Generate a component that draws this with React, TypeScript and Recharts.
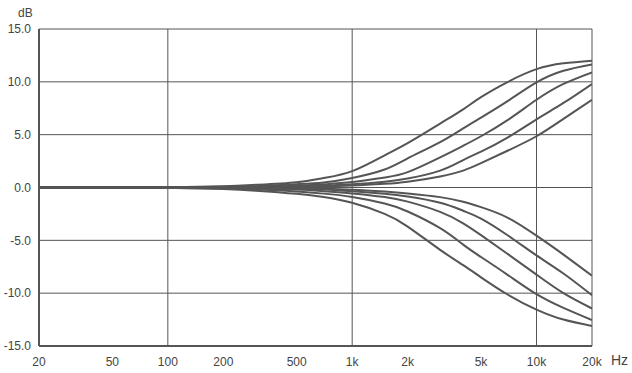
import { LineChart, Line, XAxis, YAxis, CartesianGrid, ReferenceLine } from "recharts";

const freqs = [20, 50, 100, 200, 300, 500, 700, 1000, 1500, 2000, 3000, 4000, 5000, 7000, 10000, 14000, 20000];

// boost curves, top to bottom
const boost1 = [0, 0, 0.02, 0.12, 0.25, 0.5, 0.9, 1.55, 3.05, 4.2, 6.05, 7.4, 8.55, 10.0, 11.2, 11.75, 12.0];
const boost2 = [0, 0, 0, 0.06, 0.12, 0.31, 0.48, 0.9, 1.7, 2.75, 4.3, 5.6, 6.62, 8.2, 9.95, 11.05, 11.65];
const boost3 = [0, 0, 0, 0.01, 0.07, 0.16, 0.3, 0.52, 0.95, 1.45, 2.85, 3.95, 4.85, 6.4, 8.3, 9.8, 10.9];
const boost4 = [0, 0, 0, 0, 0.02, 0.09, 0.16, 0.3, 0.55, 0.85, 1.6, 2.6, 3.4, 4.75, 6.45, 8.0, 9.8];
const boost5 = [0, 0, 0, 0, 0.01, 0.05, 0.09, 0.18, 0.35, 0.55, 1.05, 1.6, 2.3, 3.5, 4.85, 6.5, 8.3];

// cut curves, least to most
const cut1 = [0, 0, 0, 0, 0, -0.06, -0.12, -0.21, -0.39, -0.56, -0.91, -1.35, -1.86, -2.87, -4.56, -6.35, -8.35];
const cut2 = [0, 0, 0, 0, -0.03, -0.12, -0.2, -0.36, -0.6, -0.86, -1.45, -2.2, -2.94, -4.54, -6.43, -8.14, -10.2];
const cut3 = [0, 0, 0, -0.02, -0.09, -0.2, -0.35, -0.56, -0.9, -1.34, -2.31, -3.39, -4.51, -6.31, -8.25, -10.0, -11.45];
const cut4 = [0, 0, 0, -0.08, -0.16, -0.38, -0.58, -0.9, -1.52, -2.27, -3.85, -5.41, -6.58, -8.29, -10.1, -11.4, -12.55];
const cut5 = [0, 0, -0.03, -0.15, -0.3, -0.6, -0.9, -1.45, -2.5, -3.7, -5.9, -7.35, -8.5, -10.15, -11.55, -12.5, -13.1];

const xTicks = [20, 50, 100, 200, 500, 1000, 2000, 5000, 10000, 20000];
const xTickLabels = ["20", "50", "100", "200", "500", "1k", "2k", "5k", "10k", "20k"];
const yTicks = [-15, -10, -5, 0, 5, 10, 15];
const gridFreqs = [100, 1000, 10000, 20000];

const series = { boost1, boost2, boost3, boost4, boost5, cut1, cut2, cut3, cut4, cut5 };
const keys = Object.keys(series) as (keyof typeof series)[];

const data = freqs.map((f, i) => {
  const row: Record<string, number> = { f };
  keys.forEach((k) => (row[k] = series[k][i]));
  return row;
});

const ink = "#555555";
const textColor = "#444444";
const font = "'Liberation Sans', Arial, sans-serif";

export default function App() {
  return (
    <div style={{ position: "absolute", left: 0, top: 0, width: 632, height: 373, background: "#fff", fontFamily: font }}>
      <LineChart width={632} height={373} data={data} margin={{ top: 29, right: 40, bottom: 0, left: 0 }}>
        <CartesianGrid vertical={false} stroke={ink} strokeWidth={1} />
        <XAxis
          dataKey="f"
          type="number"
          scale="log"
          domain={[20, 20000]}
          ticks={xTicks}
          tickFormatter={(v) => xTickLabels[xTicks.indexOf(v)] ?? String(v)}
          tickLine={false}
          tickSize={6}
          tickMargin={5}
          height={27}
          axisLine={{ stroke: ink, strokeWidth: 2 }}
          tick={{ fill: textColor, fontSize: 12, fontFamily: font }}
          allowDataOverflow
        />
        <YAxis
          type="number"
          domain={[-15, 15]}
          ticks={yTicks}
          tickFormatter={(v) => Number(v).toFixed(1)}
          tickLine={false}
          width={39}
          axisLine={{ stroke: ink, strokeWidth: 2 }}
          tick={{ fill: textColor, fontSize: 12, fontFamily: font }}
        />
        {gridFreqs.map((g) => (
          <ReferenceLine key={g} x={g} stroke={ink} strokeWidth={1} />
        ))}
        {keys.map((k) => (
          <Line
            key={k}
            dataKey={k}
            type="natural"
            stroke={ink}
            strokeWidth={2}
            dot={false}
            isAnimationActive={false}
          />
        ))}
      </LineChart>
      <div style={{ position: "absolute", left: 18, top: 6, fontSize: 12, color: textColor }}>dB</div>
      <div style={{ position: "absolute", left: 611, top: 352, fontSize: 14, color: textColor }}>Hz</div>
    </div>
  );
}
